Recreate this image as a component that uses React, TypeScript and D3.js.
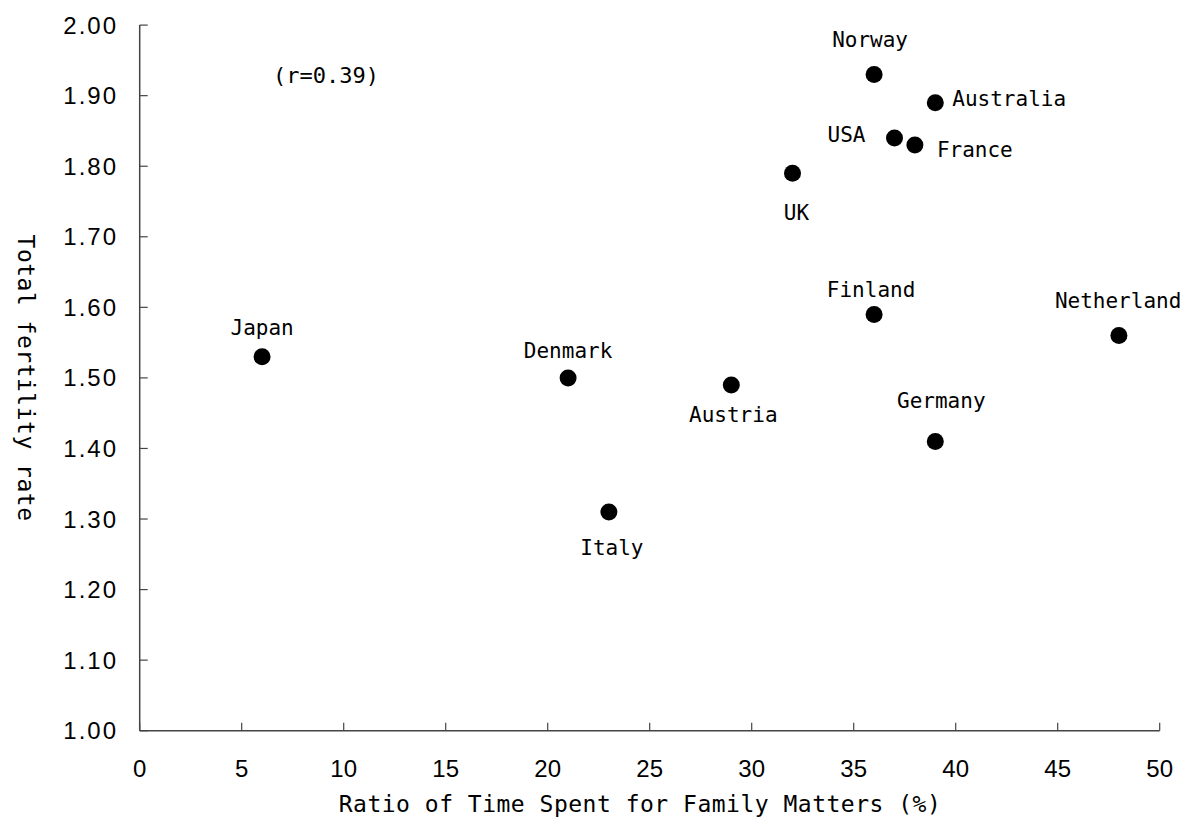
import React from "react";
import * as d3 from "d3";

const countries = ["Japan", "Denmark", "Italy", "Austria", "UK", "Norway", "Finland", "USA", "France", "Australia", "Germany", "Netherland"];
const timeRatio = [6, 21, 23, 29, 32, 36, 36, 37, 38, 39, 39, 48];
const fertility = [1.53, 1.50, 1.31, 1.49, 1.79, 1.93, 1.59, 1.84, 1.83, 1.89, 1.41, 1.56];
const xTicks = [0, 5, 10, 15, 20, 25, 30, 35, 40, 45, 50];
const yTicks = [1.0, 1.1, 1.2, 1.3, 1.4, 1.5, 1.6, 1.7, 1.8, 1.9, 2.0];
const xTitle = "Ratio of Time Spent for Family Matters (%)";
const yTitle = "Total fertility rate";
const note = "(r=0.39)";

// label placement: [dx, dy, anchor]
const labelPos: Record<string, [number, number, string]> = {
  Japan: [0, -22, "middle"],
  Denmark: [0, -20, "middle"],
  Italy: [3, 43, "middle"],
  Austria: [2, 37, "middle"],
  UK: [4, 47, "middle"],
  Norway: [-4, -27, "middle"],
  Finland: [-3, -17, "middle"],
  USA: [-29, 4, "end"],
  France: [22, 12, "start"],
  Australia: [17, 3, "start"],
  Germany: [6, -33, "middle"],
  Netherland: [-64, -28, "start"],
};

const W = 1180;
const H = 820;
const left = 139.7, right = 1159.7, top = 25.1, bottom = 730.7;

export default function App() {
  const x = d3.scaleLinear().domain([0, 50]).range([left, right]);
  const y = d3.scaleLinear().domain([1, 2]).range([bottom, top]);
  const axisColor = "#444";
  const mono = "'DejaVu Sans Mono', 'Liberation Mono', monospace";
  const sans = "'Liberation Sans', Arial, sans-serif";
  const pts = countries.map((c, i) => ({ c, x: timeRatio[i], y: fertility[i] }));
  return (
    <svg width={W} height={H} style={{ position: "absolute", left: 0, top: 0, background: "#fff" }}>
      <rect width={W} height={H} fill="#fff" />
      {/* axes */}
      <line x1={x(0)} x2={x(0)} y1={y(2)} y2={y(1)} stroke={axisColor} strokeWidth={1.5} />
      <line x1={x(0)} x2={x(50)} y1={y(1)} y2={y(1)} stroke={axisColor} strokeWidth={1.5} />
      {yTicks.map((t) => (
        <g key={"y" + t}>
          <line x1={x(0)} x2={x(0) + 8} y1={y(t)} y2={y(t)} stroke={axisColor} strokeWidth={1.2} />
          <text x={118} y={y(t) + 8.5} textAnchor="end" fontFamily={sans} fontSize={24} letterSpacing={2} fill="#000">
            {d3.format(".2f")(t)}
          </text>
        </g>
      ))}
      {xTicks.map((t) => (
        <g key={"x" + t}>
          <line x1={x(t)} x2={x(t)} y1={y(1)} y2={y(1) - 8} stroke={axisColor} strokeWidth={1.2} />
          <text x={x(t)} y={777} textAnchor="middle" fontFamily={sans} fontSize={24} fill="#000">
            {t}
          </text>
        </g>
      ))}
      {/* titles */}
      <text x={640} y={812} textAnchor="middle" fontFamily={mono} fontSize={23} letterSpacing={0.5} fill="#000">
        {xTitle}
      </text>
      <text transform={`translate(18, 378) rotate(90)`} textAnchor="middle" fontFamily={mono} fontSize={23} letterSpacing={0.5} fill="#000">
        {yTitle}
      </text>
      <text x={326} y={83} textAnchor="middle" fontFamily={mono} fontSize={22} fill="#000">
        {note}
      </text>
      {/* points */}
      {pts.map((p) => (
        <circle key={p.c} cx={x(p.x)} cy={y(p.y)} r={8.5} fill="#000" />
      ))}
      {pts.map((p) => {
        const [dx, dy, anchor] = labelPos[p.c];
        return (
          <text key={"l" + p.c} x={x(p.x) + dx} y={y(p.y) + dy} textAnchor={anchor as any} fontFamily={mono} fontSize={21} fill="#000">
            {p.c}
          </text>
        );
      })}
    </svg>
  );
}
